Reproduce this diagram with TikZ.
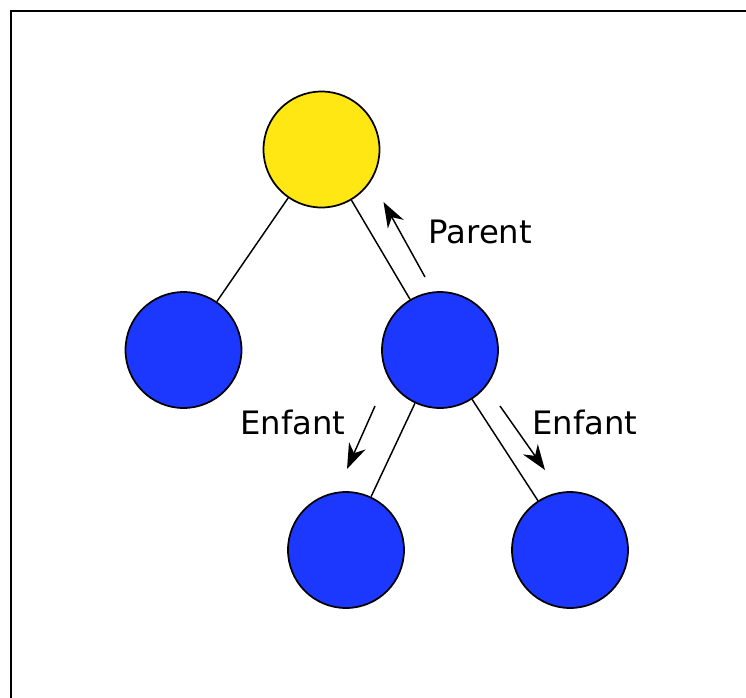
\documentclass[tikz,border=0pt]{standalone}
\usepackage{fontspec}
\setmainfont{DejaVu Sans}
\usepackage{tikz}
\usetikzlibrary{arrows.meta}
\definecolor{tyellow}{HTML}{FFE714}
\definecolor{tblue}{HTML}{1C38FF}
\tikzset{
  tnode/.style={circle, draw=black, line width=1.3pt, fill=#1,
    minimum size=116*0.75pt, inner sep=0pt},
  tedge/.style={draw=black, line width=1.1pt},
  tflow/.style={-{Stealth[length=19pt,width=13.5pt,inset=6pt]},
    draw=black, line width=1.1pt},
  tlabel/.style={font=\fontsize{24.2pt}{27pt}\selectfont, anchor=base west,
    inner sep=0pt},
}
\begin{document}
\begin{tikzpicture}[x=0.75pt,y=-0.75pt]

\useasboundingbox (0,0) rectangle (746,697);
\clip (0,0) rectangle (746,697);
% frame, only its top and left sides fall on the page
\draw[line width=1.5pt] (10.5,720) -- (10.5,10.5) -- (770,10.5);

% the tree
\node[tnode=tyellow] (racine) at (321.5,149.5) {};
\node[tnode=tblue]   (gauche) at (183.5,350) {};
\node[tnode=tblue]   (droite) at (440,350) {};
\node[tnode=tblue]   (dg)     at (346,550) {};
\node[tnode=tblue]   (dd)     at (570,550) {};

\foreach \a/\b in {racine/gauche, racine/droite, droite/dg, droite/dd}
  \draw[tedge] (\a) -- (\b);

% parent / child pointers
\coordinate (p1) at (425,277);
\coordinate (p2) at (383.5,202);
\coordinate (e1) at (375,406);
\coordinate (e2) at (347,469);
\coordinate (f1) at (500,406);
\coordinate (f2) at (545,470);
\draw[tflow] (p1) -- (p2);
\draw[tflow] (e1) -- (e2);
\draw[tflow] (f1) -- (f2);

\node[tlabel] (lparent) at (428.5,243) {Parent};
\node[tlabel] (lenf1)   at (240,434) {Enfant};
\node[tlabel] (lenf2)   at (532,434) {Enfant};

\end{tikzpicture}
\end{document}
